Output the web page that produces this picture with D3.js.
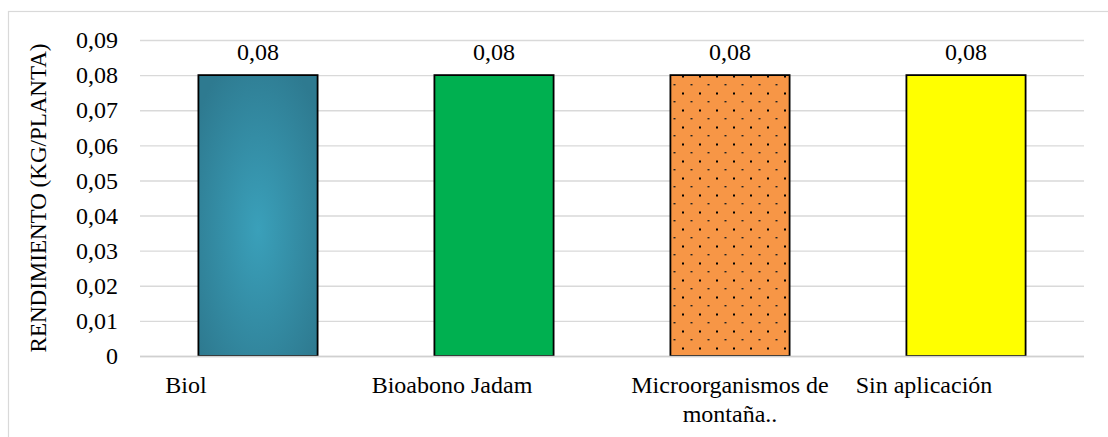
<!DOCTYPE html>
<html>
<head>
<meta charset="utf-8">
<script src="https://cdn.jsdelivr.net/npm/d3@7"></script>
<style>
  html, body { margin: 0; padding: 0; background: #fff; }
  svg { display: block; }
</style>
</head>
<body>
<svg id="chart" width="1108" height="437"></svg>
<script>
// Treatments and yield per plant (kg)
const categories = ["Biol", "Bioabono Jadam", "Microorganismos de montaña..", "Sin aplicación"];
const yieldValues = [0.08, 0.08, 0.08, 0.08];
const yTicks = [0, 0.01, 0.02, 0.03, 0.04, 0.05, 0.06, 0.07, 0.08, 0.09];
const axisTitle = "RENDIMIENTO (KG/PLANTA)";

// Layout
const W = 1108, H = 437;
const plot = { left: 140, right: 1084, top: 40, bottom: 356 };
const FONT = "'Liberation Serif', 'Times New Roman', Times, 'DejaVu Serif', serif";
const fontSize = 24;
const titleSize = 23;
// horizontal nudge of each category label relative to its band centre
const labelNudge = [-72, -42, 0, -42];

const svg = d3.select("#chart");

const x = d3.scaleBand()
  .domain(categories)
  .range([plot.left, plot.right])
  .paddingInner(0.495)
  .paddingOuter(0.2475);

const y = d3.scaleLinear()
  .domain([0, 0.09])
  .range([plot.bottom, plot.top]);

const comma = d3.formatLocale({ decimal: ",", thousands: ".", grouping: [3], currency: ["", ""] });
const tickFmt = d => d === 0 ? "0" : comma.format(".2f")(d);

const styleText = (sel, size = fontSize) => sel
  .style("font-family", FONT)
  .style("font-size", size + "px")
  .style("fill", "#000");

// Outer frame
svg.append("rect")
  .attr("x", 8.5).attr("y", 11.5)
  .attr("width", W).attr("height", H)
  .attr("fill", "none").attr("stroke", "#d9d9d9").attr("stroke-width", 1.2);

const defs = svg.append("defs");

// Soft radial shading for the first bar
const rg = defs.append("radialGradient")
  .attr("id", "biolFill")
  .attr("cx", "50%").attr("cy", "55%").attr("r", "65%");
rg.append("stop").attr("offset", "0%").attr("stop-color", "#3aa0ba");
rg.append("stop").attr("offset", "100%").attr("stop-color", "#2e7a90");

// Dotted pattern over orange
const pat = defs.append("pattern")
  .attr("id", "dotFill")
  .attr("patternUnits", "userSpaceOnUse")
  .attr("x", 673).attr("y", 84)
  .attr("width", 17).attr("height", 17);
pat.append("rect").attr("width", 17).attr("height", 17).attr("fill", "#f79646");
pat.append("rect").attr("x", 9).attr("y", 8.5).attr("width", 2).attr("height", 2).attr("fill", "#000");
pat.append("rect").attr("x", 0.5).attr("y", 0).attr("width", 2).attr("height", 1.4).attr("fill", "#222");

const fills = ["url(#biolFill)", "#00b050", "url(#dotFill)", "#ffff00"];

// Gridlines and tick labels
const yAxis = d3.axisLeft(y)
  .tickValues(yTicks)
  .tickSize(-(plot.right - plot.left))
  .tickPadding(22)
  .tickFormat(tickFmt);

const gy = svg.append("g")
  .attr("transform", `translate(${plot.left},0)`)
  .call(yAxis);
gy.attr("font-family", null).attr("font-size", null);
gy.select(".domain").remove();
gy.selectAll(".tick line")
  .attr("stroke", "#d9d9d9").attr("stroke-width", 1.4);
gy.selectAll(".tick text").call(styleText);

// Bars
svg.append("g")
  .selectAll("rect")
  .data(yieldValues)
  .join("rect")
  .attr("x", (d, i) => x(categories[i]))
  .attr("y", d => y(d))
  .attr("width", x.bandwidth())
  .attr("height", d => y(0) - y(d))
  .attr("fill", (d, i) => fills[i])
  .attr("stroke", "#000")
  .attr("stroke-width", 1.8);

// Baseline
svg.append("line")
  .attr("x1", plot.left).attr("x2", plot.right)
  .attr("y1", y(0) + 0.5).attr("y2", y(0) + 0.5)
  .attr("stroke", "#d0d0d0").attr("stroke-width", 1.6);

// Value labels
svg.append("g")
  .selectAll("text")
  .data(yieldValues)
  .join("text")
  .attr("x", (d, i) => x(categories[i]) + x.bandwidth() / 2)
  .attr("y", d => y(d) - 15)
  .attr("text-anchor", "middle")
  .call(styleText)
  .text(d => tickFmt(d));

// Category labels, wrapped to the band
const catG = svg.append("g");
categories.forEach((name, i) => {
  const cx = x(name) + x.bandwidth() / 2 + labelNudge[i];
  const t = catG.append("text")
    .attr("x", cx).attr("y", 393)
    .attr("text-anchor", "middle")
    .call(styleText);
  const words = name.split(" ");
  let line = [];
  let tspan = t.append("tspan").attr("x", cx).attr("dy", 0);
  words.forEach(w => {
    line.push(w);
    tspan.text(line.join(" "));
    if (tspan.node().getComputedTextLength() > 220 && line.length > 1) {
      line.pop();
      tspan.text(line.join(" "));
      line = [w];
      tspan = t.append("tspan").attr("x", cx).attr("dy", 29).text(w);
    }
  });
});

// Axis title
svg.append("text")
  .attr("transform", `translate(46,${(plot.top + plot.bottom) / 2}) rotate(-90)`)
  .attr("text-anchor", "middle")
  .call(styleText, titleSize)
  .text(axisTitle);
</script>
</body>
</html>
